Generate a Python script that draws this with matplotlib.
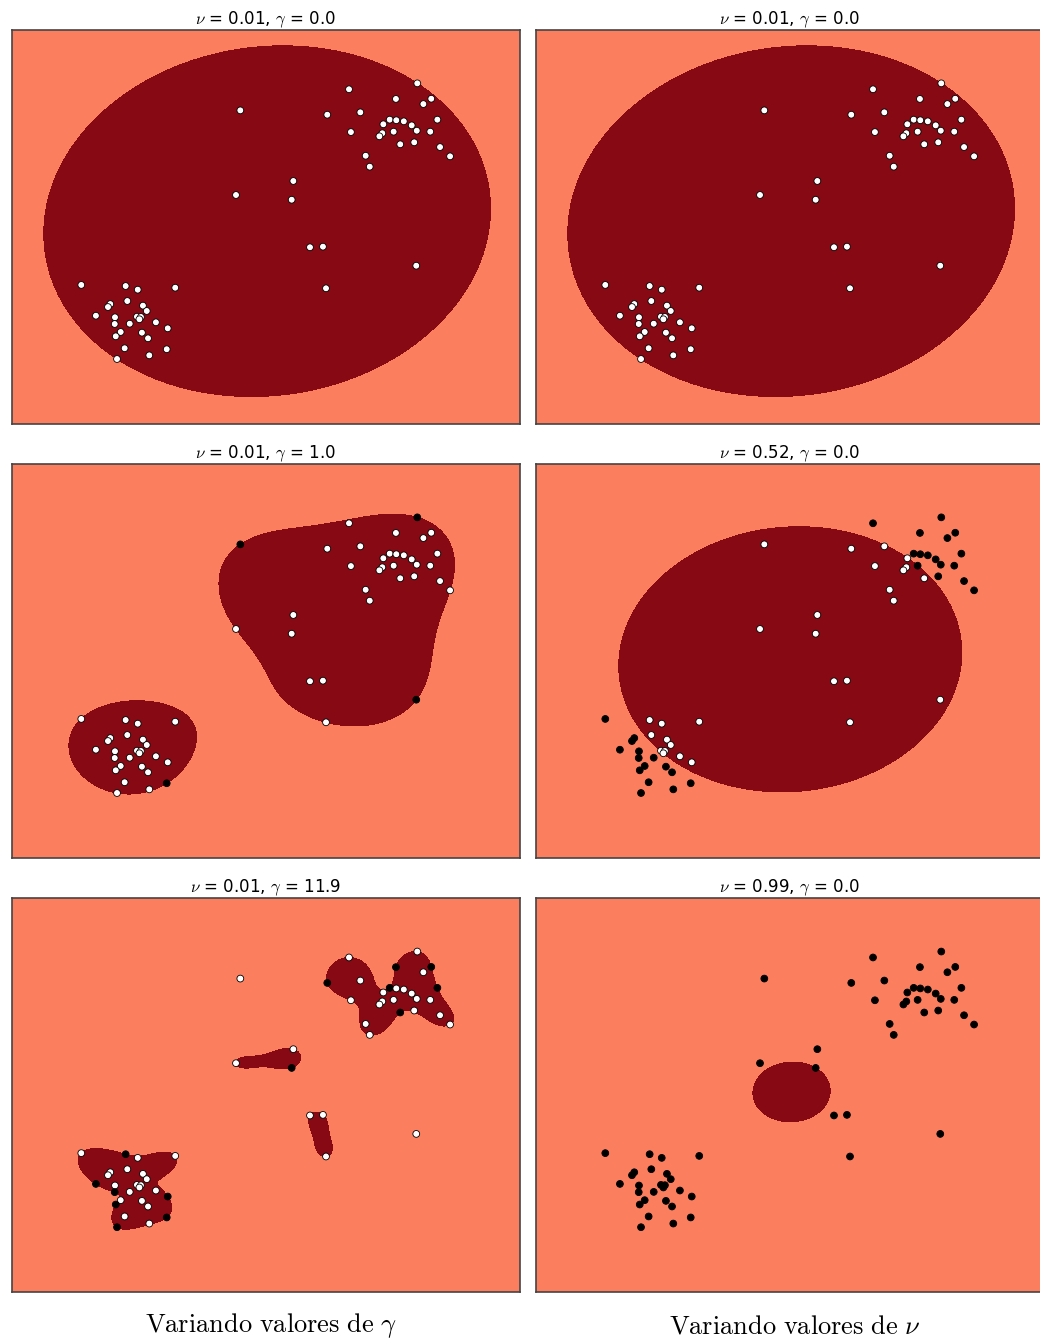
import numpy as np
import matplotlib
matplotlib.use("Agg")
import matplotlib.pyplot as plt

plt.rcParams['mathtext.fontset'] = 'cm'
plt.rcParams['font.family'] = ['DejaVu Sans']

# ---- data (shared by all panels) ----
x_pts = np.array([
    0.655, 1.192, 1.024, 1.240, 1.302, 0.484, 0.744, 0.925, 0.975, 1.027,
    1.086, 1.148, 1.188, 1.350, 1.294, 0.670, 0.917, 0.894, 1.006, 1.058,
    1.168, 1.371, 1.450, 0.786, 0.818,
    -0.200, -0.234, 0.217, 0.204, 0.348, 0.450, 1.184, 0.474,
    -1.451, -1.102, -1.007, -0.712, -1.223, -1.241, -1.089, -0.966, -0.936, -1.336,
    -1.186, -1.013, -0.982, -0.994, -1.188, -1.070, -0.864, -0.771, -1.141, -1.180,
    -0.974, -0.926, -1.110, -0.779, -0.916, -1.170])
y_pts = np.array([
    1.394, 1.454, 1.296, 1.244, 1.298, 1.136, 1.160, 1.039, 1.086, 1.080,
    1.069, 1.028, 0.974, 1.086, 0.964, 0.960, 0.948, 0.917, 0.964, 0.836,
    0.856, 0.808, 0.714, 0.720, 0.609,
    1.180, 0.322, 0.464, 0.274, -0.208, -0.202, -0.395, -0.624,
    -0.590, -0.601, -0.638, -0.618, -0.784, -0.814, -0.753, -0.800, -0.854, -0.902,
    -0.918, -0.912, -0.915, -0.938, -0.986, -0.983, -0.969, -1.030, -1.067, -1.111,
    -1.074, -1.131, -1.232, -1.242, -1.304, -1.341])

# panels in row-major order (left column: varying gamma, right column: varying nu)
nu_values = [0.01, 0.01, 0.01, 0.52, 0.01, 0.99]
gamma_values = [0.02, 0.02, 1.0, 0.02, 11.9, 0.02]
all_idx = list(range(59))
black_points = [
    [],
    [],
    [1, 25, 31, 56],
    [0, 1, 2, 3, 4, 8, 9, 10, 11, 12, 13, 14, 18, 20, 21, 22, 33, 37, 38, 42, 43,
     47, 48, 51, 52, 53, 54, 55, 56, 57, 58],
    [2, 4, 5, 8, 13, 19, 28, 34, 42, 47, 50, 52, 56, 58],
    all_idx,
]
column_labels = [r'$\mathrm{Variando\ valores\ de}\ \gamma$',
                 r'$\mathrm{Variando\ valores\ de}\ \nu$']

LIM = (-2, 2)
C_OUT = '#FB7F5F'
C_IN = '#860913'


def proj_capped_simplex(v, s):
    bp = np.sort(np.concatenate([v, v - 1.0]))
    h = np.clip(v[None, :] - bp[:, None], 0.0, 1.0).sum(1)
    j = np.searchsorted(-h, -s, side='right') - 1
    j = min(max(j, 0), len(bp) - 2)
    if h[j] != h[j + 1]:
        t = bp[j] + (h[j] - s) / (h[j] - h[j + 1]) * (bp[j + 1] - bp[j])
    else:
        t = bp[j]
    return np.clip(v - t, 0.0, 1.0)


def fit_ocsvm(X, nu, gamma, iters=15000):
    """One-class SVM dual (libsvm form) solved by accelerated projected gradient."""
    n = len(X)
    D2 = ((X[:, None, :] - X[None, :, :]) ** 2).sum(-1)
    K = np.exp(-gamma * D2)
    Q = K - 1.0
    s = nu * n
    L = np.abs(np.linalg.eigvalsh(Q)).max()
    a = np.full(n, s / n)
    yv = a.copy()
    tk = 1.0
    for _ in range(iters):
        a_new = proj_capped_simplex(yv - Q @ yv / L, s)
        tk_new = (1 + np.sqrt(1 + 4 * tk * tk)) / 2
        yv = a_new + (tk - 1) / tk_new * (a_new - a)
        a, tk = a_new, tk_new
    g = K @ a
    free = (a > 1e-5) & (a < 1 - 1e-5)
    if free.any():
        rho = g[free].mean()
    else:
        rho = 0.5 * (g[a < 1e-5].min() + g[a > 1 - 1e-5].max())
    return a, rho


X = np.column_stack([x_pts, y_pts])
gx = np.linspace(LIM[0], LIM[1], 500)
GX, GY = np.meshgrid(gx, gx)
G = np.column_stack([GX.ravel(), GY.ravel()])

fig = plt.figure(figsize=(10.4, 13.41), dpi=100)
W, H = 1040.0, 1341.0
lefts = [11.5, 535.5]
tops = [29.5, 463.5, 897.7]
aw, ah = 508.5, 394.5

for k in range(6):
    r, c = divmod(k, 2)
    ax = fig.add_axes([lefts[c] / W, 1 - (tops[r] + ah) / H, aw / W, ah / H])
    nu, gamma = nu_values[k], gamma_values[k]
    alpha, rho = fit_ocsvm(X, nu, gamma)
    D2g = ((G[:, None, :] - X[None, :, :]) ** 2).sum(-1)
    Z = (np.exp(-gamma * D2g) @ alpha - rho).reshape(GX.shape)
    ax.contourf(GX, GY, Z, levels=[Z.min(), 0, Z.max()], colors=[C_OUT, C_IN])
    cols = np.array(['white'] * len(x_pts), dtype=object)
    cols[black_points[k]] = 'black'
    ax.scatter(x_pts, y_pts, s=24, c=list(cols), edgecolors='black',
               linewidths=0.6, zorder=3)
    ax.set_xlim(LIM)
    ax.set_ylim(LIM)
    ax.set_xticks([])
    ax.set_yticks([])
    for sp in ax.spines.values():
        sp.set_color('#444444')
        sp.set_linewidth(1.2)
    ax.set_title(r'$\nu$ = %.2f, $\gamma$ = %.1f' % (nu, gamma), fontsize=12, pad=4)

fig.text(271 / W, 1 - 1326 / H, column_labels[0], ha='center', va='center', fontsize=19)
fig.text(795 / W, 1 - 1326 / H, column_labels[1], ha='center', va='center', fontsize=19)

fig.savefig('out.png', dpi=100)
